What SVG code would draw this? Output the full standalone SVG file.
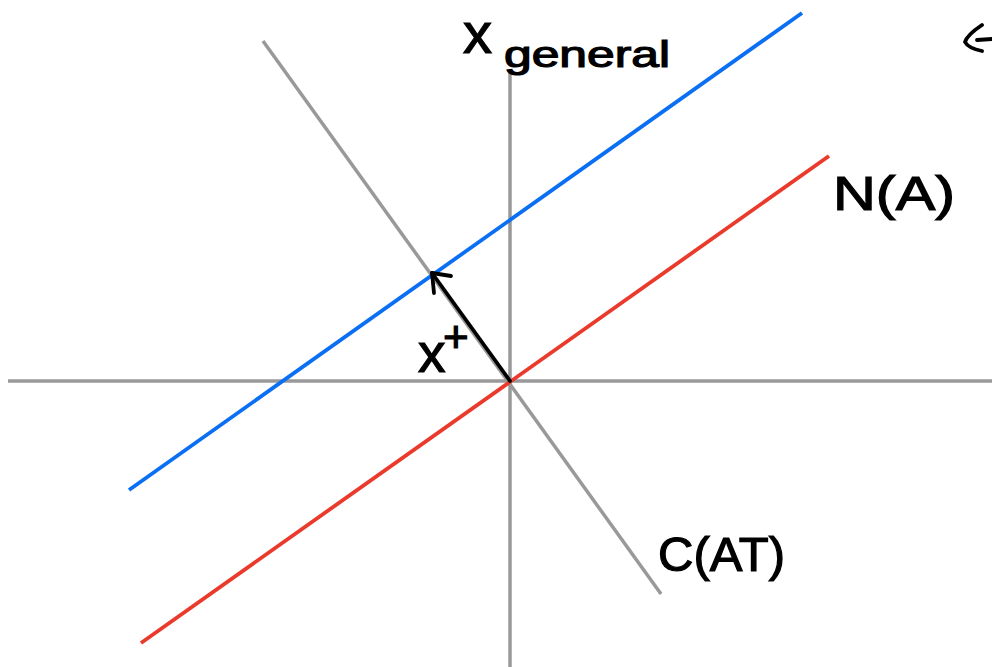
<svg xmlns="http://www.w3.org/2000/svg" width="992" height="667" viewBox="0 0 992 667">
<style>
.axis{stroke:#999999;stroke-width:3.5;fill:none}
.blue{stroke:#0a6ff2;stroke-width:3.8;fill:none}
.red{stroke:#ea3a2c;stroke-width:3.8;fill:none}
.ink{stroke:#000;stroke-width:3.8;fill:none;stroke-linecap:round;stroke-linejoin:round}
.lbl{font-family:"Liberation Sans","DejaVu Sans",sans-serif;fill:#000;stroke:#000;stroke-width:1.2}
</style>
<rect width="992" height="667" fill="#fff"/>
<g id="connectors">
<line id="x-axis" class="axis" x1="8" y1="381" x2="992" y2="381"/>
<line id="y-axis" class="axis" x1="510" y1="70" x2="510" y2="667"/>
<line id="cat-line" class="axis" x1="263" y1="41" x2="661" y2="594"/>
<line id="general-line" class="blue" x1="129" y1="490" x2="802" y2="13"/>
<line id="na-line" class="red" x1="141" y1="643" x2="829" y2="156"/>
<line id="xplus-vec" class="ink" x1="510" y1="381" x2="432" y2="273"/>
<path class="ink" d="M432,273 L451,276 M432,273 L434,293"/>
</g>
<g id="label-xgeneral">
<text class="lbl" x="463" y="53" font-size="58">x</text>
<text class="lbl" x="504" y="67" font-size="36" textLength="166" lengthAdjust="spacingAndGlyphs">general</text>
</g>
<g id="label-na">
<text class="lbl" x="833" y="210" font-size="48" textLength="122" lengthAdjust="spacingAndGlyphs">N(A)</text>
</g>
<g id="label-cat">
<text class="lbl" x="658" y="571" font-size="48" textLength="127" lengthAdjust="spacingAndGlyphs">C(AT)</text>
</g>
<g id="label-xplus">
<text class="lbl" x="418" y="372" font-size="55">x</text>
<text class="lbl" x="443" y="352" font-size="44">+</text>
</g>
<g id="partial-arrow">
<path class="ink" stroke-width="4.5" d="M982,25 Q967,35 965,42 Q968,48 982,51 M977,40 L992,39"/>
</g>
</svg>
